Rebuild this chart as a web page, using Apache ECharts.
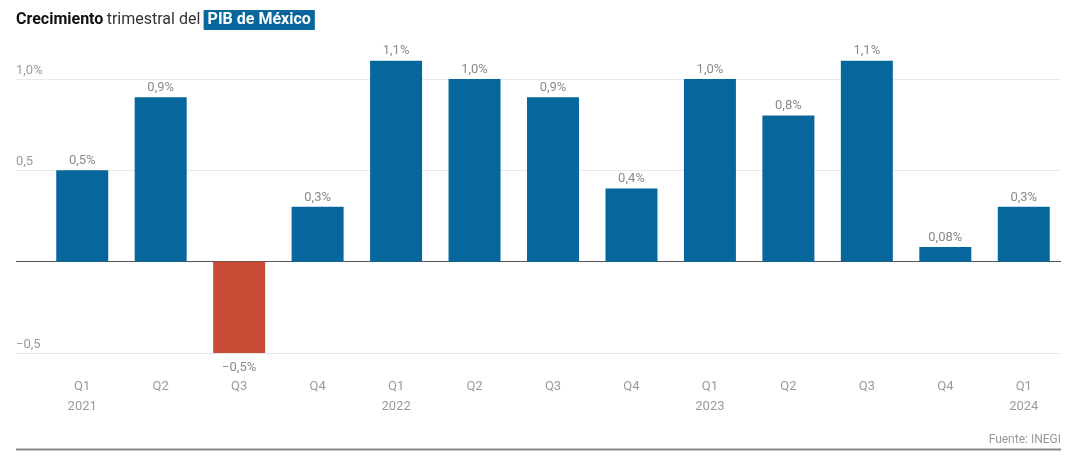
<!DOCTYPE html>
<html><head><meta charset="utf-8">
<script src="https://cdn.jsdelivr.net/npm/echarts@6/dist/echarts.min.js"></script>
<style>html,body{margin:0;padding:0;background:#fff}#c{width:1068px;height:462px}</style>
</head><body><div id="c"></div>
<script>
var quarters = ['Q1','Q2','Q3','Q4','Q1','Q2','Q3','Q4','Q1','Q2','Q3','Q4','Q1'];
var years = ['2021','','','','2022','','','','2023','','','','2024'];
var growth = [0.5, 0.9, -0.5, 0.3, 1.1, 1.0, 0.9, 0.4, 1.0, 0.8, 1.1, 0.08, 0.3];
var yTicks = [-0.5, 0, 0.5, 1.0];
var yTickLabels = ['\u22120,5', '', '0,5', '1,0%'];

var FONT = 'Roboto, "Liberation Sans", sans-serif';
var BLUE = '#07679c', RED = '#c84b35';

function fmt(v){
  var d = Math.abs(v*10 - Math.round(v*10)) > 1e-9 ? 2 : 1;
  var s = Math.abs(v).toFixed(d).replace('.', ',') + '%';
  return (v < 0 ? '\u2212' : '') + s;
}
var cats = quarters.map(function(q,i){ return years[i] ? q + '\n' + years[i] : q; });

var chart = echarts.init(document.getElementById('c'), null, {renderer:'canvas'});
chart.setOption({
  animation: false,
  backgroundColor: '#fff',
  grid: [
    {left: 16, right: 7, top: 79, bottom: 109},
    {left: 43, right: 5, top: 79, bottom: 109}
  ],
  xAxis: [
    {gridIndex: 0, type: 'value', min: 0, max: 1, show: false},
    {gridIndex: 1, type: 'category', data: cats, position: 'bottom',
     axisLine: {show: false}, axisTick: {show: false},
     axisLabel: {color: '#9a9a9a', fontSize: 13, fontFamily: FONT, margin: 24, lineHeight: 20}}
  ],
  yAxis: [
    {gridIndex: 0, type: 'value', min: -0.5, max: 1.0, interval: 0.5,
     axisLine: {show: false}, axisTick: {show: false},
     splitLine: {show: true, lineStyle: {color: ['#e8e8e8', '#555555', '#e8e8e8', '#e8e8e8'], width: 1}},
     axisLabel: {inside: true, margin: 0, align: 'left', verticalAlign: 'bottom', padding: [0,0,2,0],
       color: '#9a9a9a', fontSize: 13, fontFamily: FONT,
       formatter: function(v){ var i = yTicks.indexOf(Math.round(v*10)/10); return i >= 0 ? yTickLabels[i] : ''; }}},
    {gridIndex: 1, type: 'value', min: -0.5, max: 1.0, interval: 0.5, show: false, splitLine: {show: false}}
  ],
  series: [{
    type: 'bar', xAxisIndex: 1, yAxisIndex: 1, barWidth: 52, clip: false,
    data: growth.map(function(v){
      return {value: v, itemStyle: {color: v < 0 ? RED : BLUE},
        label: {position: v < 0 ? 'bottom' : 'top', distance: v < 0 ? 8 : 3}};
    }),
    label: {show: true, color: '#8a8a8a', fontSize: 13, fontFamily: FONT,
      formatter: function(p){ return fmt(p.value); }},
    z: 3
  }],
  graphic: [
    {type: 'text', left: 16, top: 10, z: 10,
     style: {
       text: '{b|Crecimiento} {n|trimestral del} {h|PIB de México}',
       rich: {
         b: {fontFamily: FONT, fontWeight: 'bold', fontSize: 16, fill: '#111'},
         n: {fontFamily: FONT, fontSize: 16, fill: '#333'},
         h: {fontFamily: FONT, fontWeight: 'bold', fontSize: 16, fill: '#fff', backgroundColor: BLUE, padding: [2,4,2,4]}
       }
     }},
    {type: 'line', z: 10, shape: {x1: 16, y1: 449.5, x2: 1061, y2: 449.5}, style: {stroke: '#888', lineWidth: 2}},
    {type: 'text', right: 7, top: 434, z: 10,
     style: {text: 'Fuente: INEGI', fontFamily: FONT, fontSize: 12, fill: '#999', align: 'right'}}
  ]
});
</script></body></html>
